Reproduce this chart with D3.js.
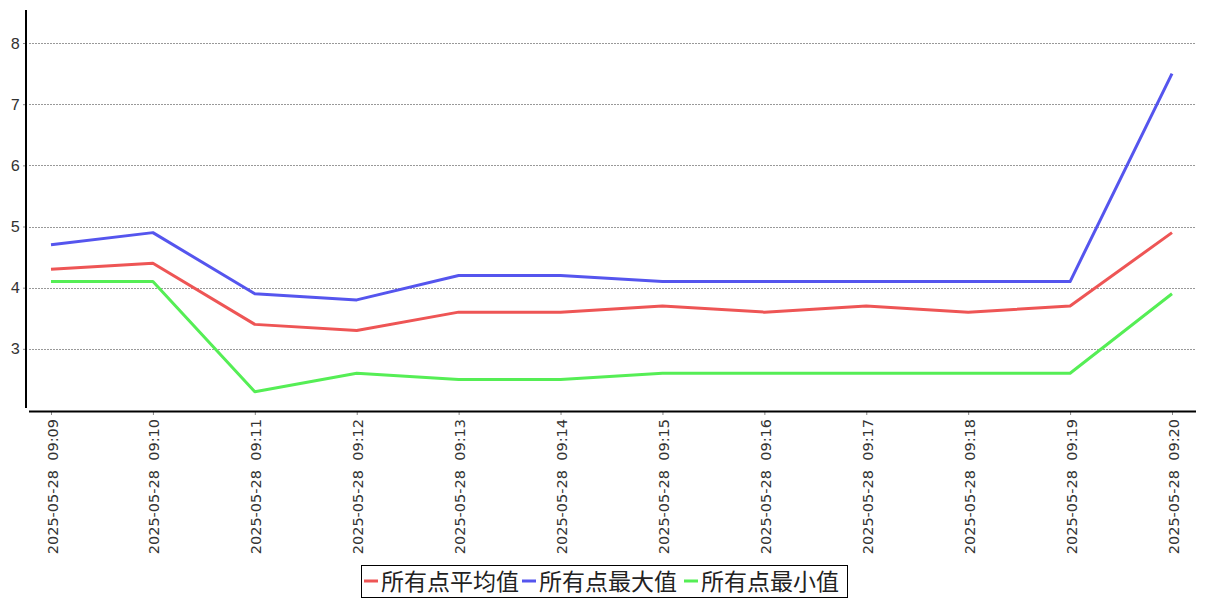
<!DOCTYPE html>
<html><head><meta charset="utf-8">
<script src="https://cdn.jsdelivr.net/npm/d3@7"></script>
<style>body{margin:0;background:#fff}svg{display:block}</style>
</head><body><svg id="c" width="1207" height="600"></svg>
<script>
const categories = ["2025-05-28  09:09","2025-05-28  09:10","2025-05-28  09:11","2025-05-28  09:12","2025-05-28  09:13","2025-05-28  09:14","2025-05-28  09:15","2025-05-28  09:16","2025-05-28  09:17","2025-05-28  09:18","2025-05-28  09:19","2025-05-28  09:20"];
const avgValues = [4.3,4.4,3.4,3.3,3.6,3.6,3.7,3.6,3.7,3.6,3.7,4.9];
const maxValues = [4.7,4.9,3.9,3.8,4.2,4.2,4.1,4.1,4.1,4.1,4.1,7.5];
const minValues = [4.1,4.1,2.3,2.6,2.5,2.5,2.6,2.6,2.6,2.6,2.6,3.9];
const yTicks = [3,4,5,6,7,8];
const seriesNames = ["所有点平均值","所有点最大值","所有点最小值"];
const colors = ["#ee5555","#5555ee","#55ee55"];

const svg = d3.select("#c");
const x = d3.scalePoint().domain(categories).range([51,1172]);
const y = d3.scaleLinear().domain([2,8.54]).range([410,10]);

// grid
svg.append("g").selectAll("line").data(yTicks).join("line")
  .attr("x1",29).attr("x2",1196).attr("y1",d=>Math.round(y(d))+0.5).attr("y2",d=>Math.round(y(d))+0.5)
  .attr("stroke","#999").attr("stroke-dasharray","2,1").attr("stroke-width",1);

// y axis
const ya = svg.append("g").attr("transform","translate(26,0)")
  .call(d3.axisLeft(y).tickValues(yTicks).tickSize(3).tickFormat(d3.format("d")));
ya.select(".domain").remove();
ya.selectAll(".tick line").attr("stroke","#888");
ya.selectAll("text").attr("font-family","Liberation Mono").attr("font-size",16).attr("fill","#333").attr("x",-6);
svg.append("line").attr("x1",26).attr("x2",26).attr("y1",10).attr("y2",408).attr("stroke","#000").attr("stroke-width",2);

// x axis
const xa = svg.append("g").attr("transform","translate(0,412)")
  .call(d3.axisBottom(x).tickSize(3));
xa.select(".domain").remove();
xa.selectAll(".tick line").attr("stroke","#888");
xa.selectAll("text").attr("font-family","DejaVu Sans").attr("font-size",14.5).attr("fill","#333")
  .attr("transform","rotate(-90)").attr("text-anchor","end").attr("x",-7).attr("y",1).attr("dy","0.35em")
  .style("white-space","pre").attr("xml:space","preserve");
svg.append("line").attr("x1",29).attr("x2",1196).attr("y1",411.5).attr("y2",411.5).attr("stroke","#000").attr("stroke-width",2);

// lines
const line = d3.line().x((d,i)=>x(categories[i])).y(d=>y(d));
[avgValues,maxValues,minValues].forEach((vals,k)=>{
  svg.append("path").datum(vals).attr("d",line).attr("fill","none")
    .attr("stroke",colors[k]).attr("stroke-width",3).attr("stroke-linejoin","round");
});

// legend
const lg = svg.append("g");
lg.append("rect").attr("x",361.5).attr("y",565.5).attr("width",486).attr("height",32)
  .attr("fill","#fff").attr("stroke","#000").attr("stroke-width",1);
const lx = [364,522,684];
seriesNames.forEach((n,k)=>{
  lg.append("line").attr("x1",lx[k]).attr("x2",lx[k]+14).attr("y1",581).attr("y2",581)
    .attr("stroke",colors[k]).attr("stroke-width",3);
  lg.append("text").attr("x",lx[k]+17).attr("y",590).text(n)
    .attr("font-family","Noto Sans CJK SC").attr("font-size",23).attr("fill","#222");
});
</script></body></html>
